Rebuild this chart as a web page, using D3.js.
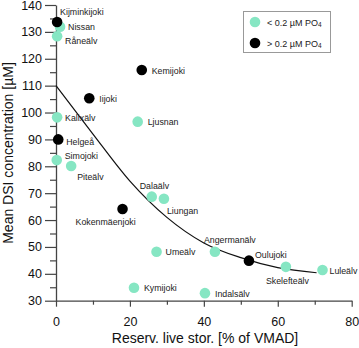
<!DOCTYPE html>
<html>
<head>
<meta charset="utf-8">
<script src="https://cdn.jsdelivr.net/npm/d3@7"></script>
<style>
  body { margin: 0; background: #fff; }
  svg { display: block; font-family: "Liberation Sans", Arial, sans-serif; }
</style>
</head>
<body>
<div id="chart"></div>
<script>
// river names, reservoir live storage (% of VMAD), mean DSI (µM), PO4 class
const rivers = ["Kijminkijoki", "Nissan", "Råneälv", "Kemijoki", "Iijoki", "Kalixälv",
  "Ljusnan", "Helgeå", "Simojoki", "Piteälv", "Dalaälv", "Liungan", "Kokenmäenjoki",
  "Umeälv", "Kymijoki", "Angermanälv", "Oulujoki", "Skelefteälv", "Luleälv", "Indalsälv"];
const storage = [0.3, 1.1, 0.3, 23.2, 9.0, 0.3, 22.1, 0.6, 0.2, 4.1, 25.9, 29.2, 18.0,
  27.2, 21.1, 43.0, 52.2, 62.2, 72.1, 40.3];
const dsi = [133.7, 131.9, 128.4, 115.8, 105.3, 98.2, 96.6, 90.0, 82.3, 80.1, 68.7, 67.9,
  64.1, 48.2, 34.8, 48.2, 44.9, 42.6, 41.4, 32.8];
const highPO4 = [true, false, false, true, true, false, false, true, false, false, false,
  false, true, false, false, false, true, false, false, false];

// fitted trend line
const fitX = [0, 10, 20, 30, 40, 50, 60, 70.5];
const fitY = [110, 92, 74.5, 61, 51.5, 46, 42.3, 40.4];

const xTicks = [0, 20, 40, 60, 80];
const xMinor = [10, 30, 50, 70];
const yTicks = [30, 40, 50, 60, 70, 80, 90, 100, 110, 120, 130, 140];
const yMinor = [35, 45, 55, 65, 75, 85, 95, 105, 115, 125, 135];

const legendLabels = ["< 0.2 µM PO", "> 0.2 µM PO"];

// label placement (dx, dy from the point centre)
const labelPos = {
  "Kijminkijoki": [3, -7], "Nissan": [8, 3], "Råneälv": [8, 8], "Kemijoki": [10, 3.5],
  "Iijoki": [10, 3.5], "Kalixälv": [8, 3.5], "Ljusnan": [10, 3.5], "Helgeå": [8, 5.5],
  "Simojoki": [8, -1.5], "Piteälv": [6, 14], "Dalaälv": [-12, -8], "Liungan": [3, 15],
  "Kokenmäenjoki": [-47, 15.5], "Umeälv": [9, 3], "Kymijoki": [10, 3.5],
  "Angermanälv": [-11, -9], "Oulujoki": [6, -3], "Skelefteälv": [-20, 17.5],
  "Luleälv": [7, 4], "Indalsälv": [10, 4]
};

const green = "#86e6c3";
const axisCol = "#444";

const width = 359, height = 348;
const svg = d3.select("#chart").append("svg")
  .attr("width", width).attr("height", height);

const x = d3.scaleLinear().domain([0, 80]).range([56, 351.7]);
const y = d3.scaleLinear().domain([30, 140]).range([300.7, 5]);

// minor ticks first
svg.append("g")
  .attr("transform", `translate(0,${y(30)})`)
  .call(d3.axisBottom(x).tickValues(xMinor).tickSize(4).tickFormat(""))
  .call(g => g.select(".domain").remove());
svg.append("g")
  .attr("transform", `translate(${x(0)},0)`)
  .call(d3.axisLeft(y).tickValues(yMinor).tickSize(6).tickFormat(""))
  .call(g => g.select(".domain").remove());

svg.append("g")
  .attr("transform", `translate(0,${y(30)})`)
  .call(d3.axisBottom(x).tickValues(xTicks).tickSize(6).tickSizeOuter(0).tickPadding(10));
svg.append("g")
  .attr("transform", `translate(${x(0)},0)`)
  .call(d3.axisLeft(y).tickValues(yTicks).tickSize(11).tickSizeOuter(0).tickPadding(3));

svg.selectAll(".tick line").attr("stroke", axisCol).attr("stroke-width", 1.2);
svg.selectAll(".domain").attr("stroke", axisCol).attr("stroke-width", 1.3);
svg.selectAll(".tick text")
  .style("font-size", "12.5px").attr("fill", "#111")
  .style("font-family", "Liberation Sans, Arial, sans-serif");

// trend line
const path = d3.line().x(d => x(d[0])).y(d => y(d[1])).curve(d3.curveMonotoneX);
svg.append("path")
  .datum(fitX.map((v, i) => [v, fitY[i]]))
  .attr("fill", "none").attr("stroke", "#111").attr("stroke-width", 1.2)
  .attr("d", path);

const pts = rivers.map((r, i) => ({ name: r, sx: storage[i], dsi: dsi[i], high: highPO4[i] }));
const ordered = pts.filter(d => !d.high).concat(pts.filter(d => d.high));

svg.append("g").selectAll("circle")
  .data(ordered)
  .join("circle")
  .attr("cx", d => x(d.sx))
  .attr("cy", d => y(d.dsi))
  .attr("r", 5.3)
  .attr("fill", d => d.high ? "#000" : green);

svg.append("g").selectAll("text")
  .data(pts)
  .join("text")
  .attr("x", d => x(d.sx) + labelPos[d.name][0])
  .attr("y", d => y(d.dsi) + labelPos[d.name][1])
  .attr("font-size", 8.8)
  .attr("fill", "#222")
  .text(d => d.name);

// axis titles
svg.append("text")
  .attr("x", 205).attr("y", 343)
  .attr("text-anchor", "middle").attr("font-size", 14).attr("fill", "#111")
  .text("Reserv. live stor. [% of VMAD]");
svg.append("text")
  .attr("transform", "translate(13,153) rotate(-90)")
  .attr("text-anchor", "middle").attr("font-size", 14).attr("fill", "#111")
  .text("Mean DSI concentration [µM]");

// legend
const legend = svg.append("g");
legend.append("rect")
  .attr("x", 243.5).attr("y", 11.5).attr("width", 87).attr("height", 41)
  .attr("fill", "#fff").attr("stroke", "#999").attr("stroke-width", 1);
legendLabels.forEach((lab, i) => {
  const cy = 22 + i * 21;
  legend.append("circle").attr("cx", 255).attr("cy", cy).attr("r", 5.3)
    .attr("fill", i === 0 ? green : "#000");
  const t = legend.append("text").attr("x", 267).attr("y", cy + 3.5)
    .attr("font-size", 9).attr("fill", "#222").text(lab);
  t.append("tspan").attr("font-size", 6.5).attr("dy", 1.5).text("4");
});
</script>
</body>
</html>
